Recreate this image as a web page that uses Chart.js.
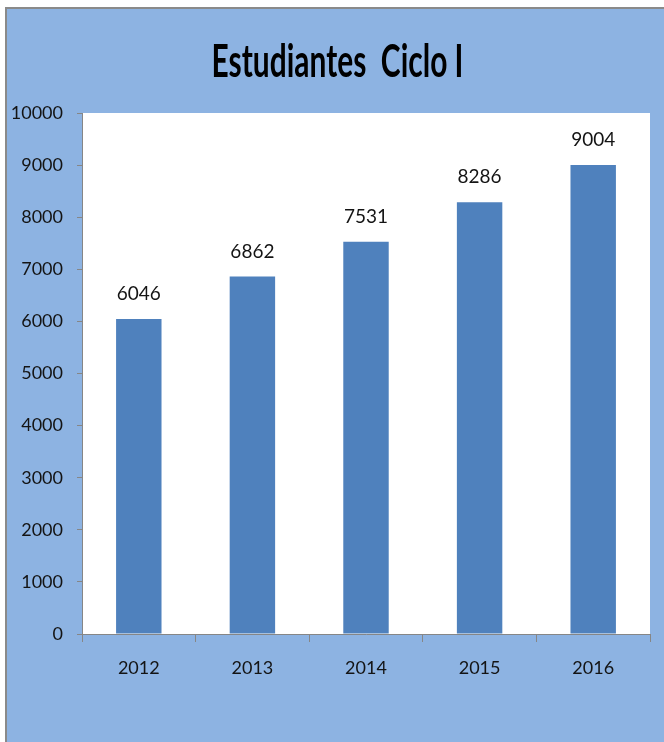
<!DOCTYPE html>
<html>
<head>
<meta charset="utf-8">
<script src="https://cdn.jsdelivr.net/npm/chart.js@4"></script>
<style>
  html, body { margin: 0; padding: 0; background: #ffffff; width: 664px; height: 742px; overflow: hidden; }
  #frame { position: absolute; left: 5px; top: 7px; right: 0; bottom: 0;
           border-top: 2px solid #8a8a8a; border-left: 2px solid #8a8a8a; background: #8DB3E2; }
  #c { position: absolute; left: 0; top: 0; }
</style>
</head>
<body>
<div id="frame"></div>
<canvas id="c" width="664" height="742"></canvas>
<script>
const categories = ['2012', '2013', '2014', '2015', '2016'];
const students = [6046, 6862, 7531, 8286, 9004];
const yMin = 0;
const yMax = 10000;
const yStep = 1000;
const titleText = 'Estudiantes  Ciclo I';

const FAMILY = 'Lato, "Liberation Sans", sans-serif';
const TEXT = '#141414';
const AXIS = '#868686';

const plotBg = {
  id: 'plotBg',
  beforeDraw(chart) {
    const { ctx, chartArea: a } = chart;
    ctx.save();
    ctx.fillStyle = '#ffffff';
    ctx.fillRect(a.left, a.top, a.right - a.left, a.bottom - a.top);
    ctx.restore();
  }
};

const titlePlugin = {
  id: 'squeezedTitle',
  afterDraw(chart) {
    const { ctx } = chart;
    ctx.save();
    ctx.font = 'bold 46px ' + FAMILY;
    ctx.fillStyle = '#000000';
    ctx.textAlign = 'center';
    ctx.textBaseline = 'alphabetic';
    const w = ctx.measureText(titleText).width;
    const sx = Math.min(1, 252 / w);
    ctx.translate(337.5, 77);
    ctx.scale(sx, 1);
    ctx.fillText(titleText, 0, 0);
    ctx.restore();
  }
};

const valueLabels = {
  id: 'valueLabels',
  afterDatasetsDraw(chart) {
    const { ctx } = chart;
    const meta = chart.getDatasetMeta(0);
    ctx.save();
    ctx.font = '19px ' + FAMILY;
    ctx.fillStyle = TEXT;
    ctx.textAlign = 'center';
    ctx.textBaseline = 'middle';
    meta.data.forEach((bar, i) => {
      ctx.fillText(String(chart.data.datasets[0].data[i]), bar.x, bar.y - 25);
    });
    ctx.restore();
  }
};

new Chart(document.getElementById('c'), {
  type: 'bar',
  data: {
    labels: categories,
    datasets: [{
      data: students,
      backgroundColor: '#4F81BD',
      borderWidth: 0,
      categoryPercentage: 1,
      barPercentage: 0.4
    }]
  },
  options: {
    responsive: false,
    animation: false,
    devicePixelRatio: 1,
    layout: { padding: { top: 113, right: 14, bottom: 58, left: 0 } },
    plugins: { legend: { display: false }, title: { display: false }, tooltip: { enabled: false } },
    scales: {
      x: {
        grid: { display: true, drawOnChartArea: false, drawTicks: true, tickLength: 8, color: AXIS, offset: true },
        border: { display: true, color: AXIS, width: 1 },
        ticks: { color: TEXT, font: { family: FAMILY, size: 18 }, padding: 15 },
        afterFit(s) { s.height = 50; }
      },
      y: {
        min: yMin,
        max: yMax,
        grid: { display: true, drawOnChartArea: false, drawTicks: true, tickLength: 5, color: AXIS },
        border: { display: true, color: AXIS, width: 1 },
        ticks: { stepSize: yStep, color: TEXT, font: { family: FAMILY, size: 18 }, padding: 14,
                 callback: (v) => String(v) },
        afterFit(s) { s.width = 82; }
      }
    }
  },
  plugins: [plotBg, valueLabels, titlePlugin]
});
</script>
</body>
</html>
